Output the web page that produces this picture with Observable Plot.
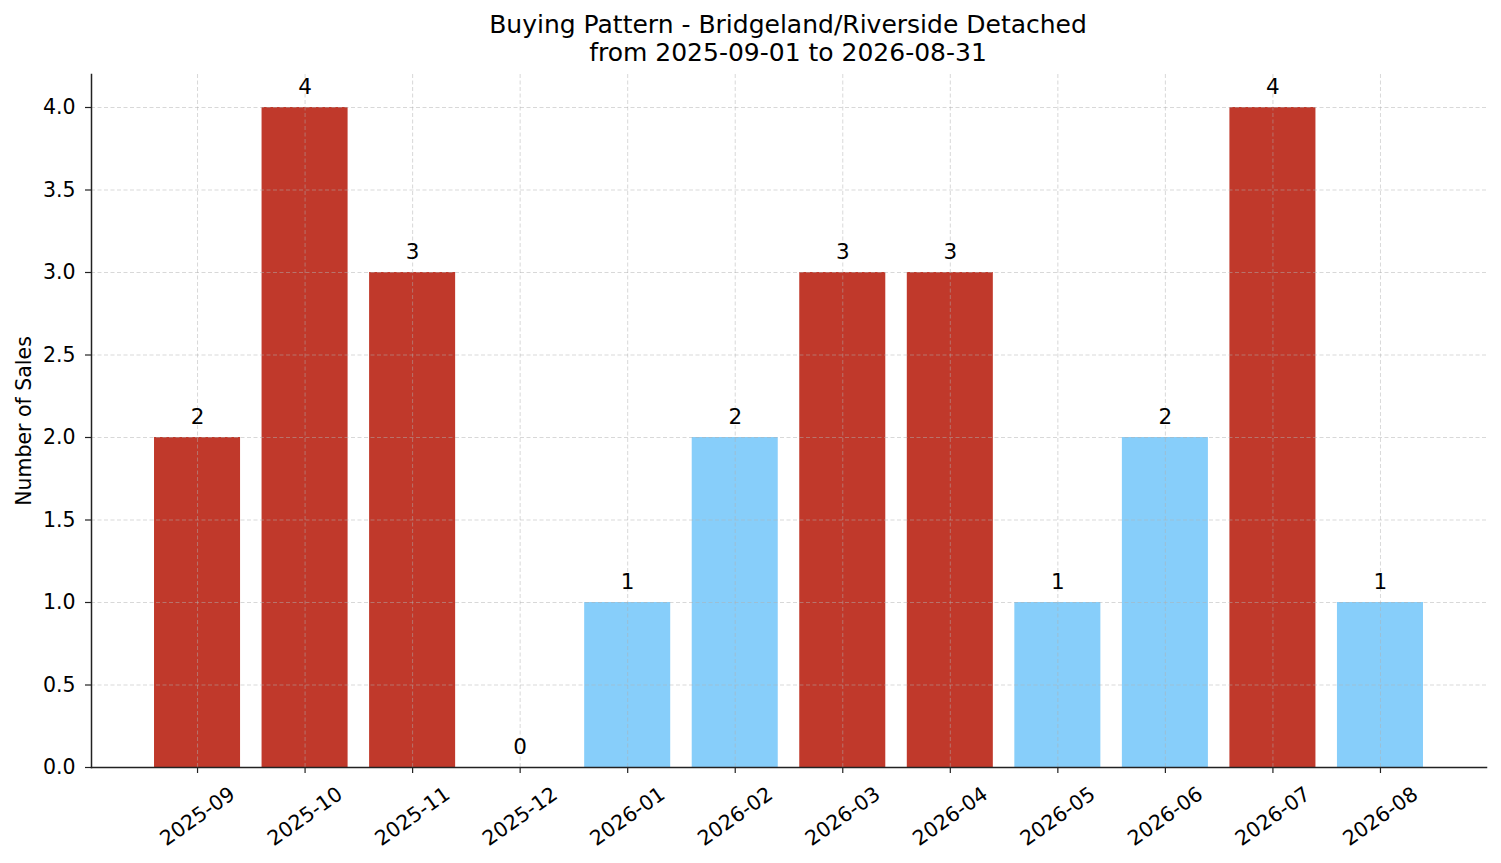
<!DOCTYPE html>
<html>
<head>
<meta charset="utf-8">
<script src="https://cdn.jsdelivr.net/npm/d3@7"></script>
<script src="https://cdn.jsdelivr.net/npm/@observablehq/plot@0.6"></script>
<style>
  html, body { margin: 0; padding: 0; background: #fff; }
  body { width: 1501px; height: 863px; overflow: hidden; font-family: "DejaVu Sans", sans-serif; }
  #title { height: 66px; width: 1501px; box-sizing: border-box; padding-top: 11px; text-align: center; font-size: 25px; line-height: 28px; color: #000; padding-left: 75px; }
  svg { display: block; }
</style>
</head>
<body>
<div id="title">Buying Pattern - Bridgeland/Riverside Detached<br>from 2025-09-01 to 2026-08-31</div>
<div id="chart"></div>
<script>
const months = ["2025-09", "2025-10", "2025-11", "2025-12", "2026-01", "2026-02", "2026-03", "2026-04", "2026-05", "2026-06", "2026-07", "2026-08"];
const sales = [2, 4, 3, 0, 1, 2, 3, 3, 1, 2, 4, 1];
const tiers = ["hot", "hot", "hot", "cool", "cool", "cool", "hot", "hot", "cool", "cool", "hot", "cool"];
const yTicks = [0, 0.5, 1.0, 1.5, 2.0, 2.5, 3.0, 3.5, 4.0];

const data = months.map((m, i) => ({month: m, sales: sales[i], tier: tiers[i]}));

const grid = {stroke: "#b0b0b0", strokeOpacity: 0.55, strokeDasharray: "4,2.5", strokeWidth: 0.9};

const chart = Plot.plot({
  width: 1501,
  height: 797,
  marginTop: 8,
  marginLeft: 91,
  marginRight: 15,
  marginBottom: 96,
  style: {fontFamily: "DejaVu Sans, sans-serif", fontSize: "20.5px", color: "#000", background: "#fff"},
  x: {domain: months, paddingInner: 0.2, paddingOuter: 0.586, round: false, label: null},
  y: {domain: [0, 4.2], label: null},
  color: {domain: ["hot", "cool"], range: ["#c0392b", "#87cefa"]},
  marks: [
    Plot.barY(data, {x: "month", y: "sales", fill: "tier"}),
    Plot.ruleY(yTicks, {...grid}),
    Plot.ruleX(months, {x: d => d, ...grid}),
    Plot.text(data, {x: "month", y: "sales", text: d => String(d.sales), lineAnchor: "bottom", dy: -14, fontSize: 21.5, fill: "#000"}),
    Plot.axisY({ticks: yTicks, tickFormat: d3.format(".1f"), tickSize: 6, tickPadding: 10, label: null, stroke: "#222", strokeWidth: 1.2, fontSize: 20.5}),
    Plot.axisX({tickSize: 6, tickFormat: () => "", label: null, stroke: "#222", strokeWidth: 1.2}),
    Plot.text(months, {x: d => d, frameAnchor: "bottom", dy: 49, rotate: -35, textAnchor: "middle", lineAnchor: "middle", fontSize: 20.5, fill: "#000"}),
    Plot.text(["Number of Sales"], {frameAnchor: "left", dx: -67, rotate: -90, textAnchor: "middle", lineAnchor: "middle", fontSize: 20.5, fill: "#000"}),
    Plot.frame({anchor: "left", stroke: "#222", strokeWidth: 1.5}),
    Plot.frame({anchor: "bottom", stroke: "#222", strokeWidth: 1.5})
  ]
});
document.getElementById("chart").appendChild(chart);
</script>
</body>
</html>
